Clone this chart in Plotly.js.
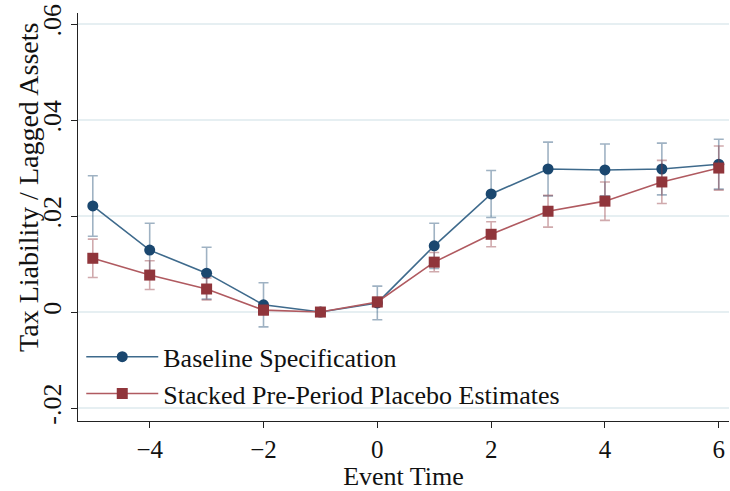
<!DOCTYPE html>
<html><head><meta charset="utf-8">
<script src="https://cdn.plot.ly/plotly-3.0.1.min.js"></script>
<style>html,body{margin:0;padding:0;background:#fff;}#chart{width:730px;height:491px;}</style>
</head><body><div id="chart"></div>
<script>
const eventTime = [-5,-4,-3,-2,-1,0,1,2,3,4,5,6];
const baseline = [0.0221,0.0129,0.0081,0.0015,0.0,0.0019,0.0138,0.0246,0.0298,0.0296,0.0298,0.0308];
const baselineErr = [0.0063,0.0056,0.0054,0.0046,0,0.0035,0.0047,0.0049,0.0056,0.0054,0.0054,0.0052];
const placebo = [0.0112,0.0077,0.0048,0.0004,0.0,0.0021,0.0104,0.0162,0.0210,0.0231,0.0271,0.0300];
const placeboErr = [0.0040,0.0030,0.0023,0.0010,0,0.0010,0.0020,0.0026,0.0033,0.0040,0.0045,0.0046];
const yTickVals = [-0.02,0,0.02,0.04,0.06];
const yTickText = ['-.02','0','.02','.04','.06'];
const xTickVals = [-4,-2,0,2,4,6];

const serif = 'Liberation Serif, Times New Roman, serif';
const blue = '#1a476f', red = '#90353b';

const traces = [
  {x: eventTime, y: baseline, name: 'Baseline Specification', mode: 'lines+markers',
   line: {color: '#3e6a8c', width: 1.6}, marker: {color: blue, size: 11, symbol: 'circle'},
   error_y: {type: 'data', array: baselineErr, visible: true, color: 'rgba(26,71,111,0.42)', thickness: 1.6, width: 5}},
  {x: eventTime, y: placebo, name: 'Stacked Pre-Period Placebo Estimates', mode: 'lines+markers',
   line: {color: '#b05a60', width: 1.6}, marker: {color: red, size: 11, symbol: 'square'},
   error_y: {type: 'data', array: placeboErr, visible: true, color: 'rgba(144,53,59,0.42)', thickness: 1.6, width: 5}}
];

const layout = {
  width: 730, height: 491,
  margin: {l: 78, r: 1, t: 13, b: 70},
  paper_bgcolor: '#fff', plot_bgcolor: '#fff',
  font: {family: serif, size: 24, color: '#111'},
  showlegend: true,
  legend: {x: 0.005, y: 0.215, xanchor: 'left', yanchor: 'top', bgcolor: 'rgba(255,255,255,0)',
           font: {family: serif, size: 26, color: '#111'}, itemwidth: 72, tracegroupgap: 0},
  xaxis: {range: [-5.26, 6.18], tickvals: xTickVals, ticks: 'outside', ticklen: 6, tickcolor: '#222',
          showline: true, linecolor: '#222', linewidth: 1.2, showgrid: false, zeroline: false,
          tickfont: {family: serif, size: 25}, title: {text: 'Event Time', font: {family: serif, size: 26}, standoff: 4}},
  yaxis: {range: [-0.0227, 0.0623], tickvals: yTickVals, ticktext: yTickText, tickangle: -90,
          ticks: 'outside', ticklen: 6, tickcolor: '#222', showline: true, linecolor: '#222', linewidth: 1.2,
          showgrid: true, gridcolor: '#e6eff2', gridwidth: 1.5, zeroline: false,
          tickfont: {family: serif, size: 26}},
  annotations: [{text: 'Tax Liability / Lagged Assets', xref: 'paper', yref: 'paper', x: -0.077, y: 0.5735,
                 xanchor: 'center', yanchor: 'middle', textangle: -90, showarrow: false,
                 font: {family: serif, size: 28, color: '#111'}}]
};
Plotly.newPlot('chart', traces, layout, {displayModeBar: false});
</script></body></html>
